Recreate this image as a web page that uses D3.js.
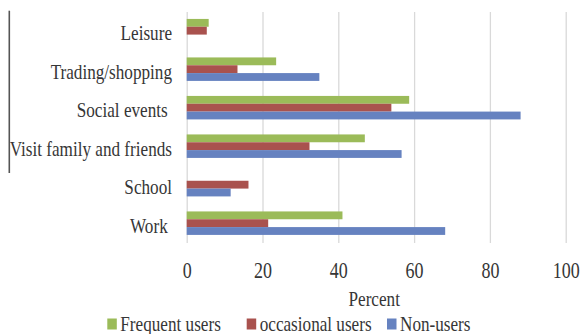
<!DOCTYPE html>
<html>
<head>
<meta charset="utf-8">
<script src="https://cdn.jsdelivr.net/npm/d3@7"></script>
<style>
  html, body { margin: 0; padding: 0; background: #fff; }
  svg text { font-family: "Liberation Serif", "Times New Roman", serif; fill: #363636; white-space: pre; }
</style>
</head>
<body>
<svg id="chart" width="580" height="334"></svg>
<script>
// Purposes of travel, top to bottom
const categories = ["Leisure", "Trading/shopping", "Social events ", "Visit family and friends", "School", "Work "];
const seriesNames = ["Frequent users", "occasional users", "Non-users"];
const seriesColors = ["#9bbb59", "#a9524e", "#6682c0"];

// Percent of respondents per purpose
const frequentUsers   = [5.8, 23.6, 58.7, 47.0, 0,    41.1];
const occasionalUsers = [5.3, 13.4, 54.0, 32.4, 16.3, 21.5];
const nonUsers        = [0,   35.0, 88.1, 56.7, 11.6, 68.2];

const xTicks = [0, 20, 40, 60, 80, 100];
const axisTitle = "Percent";

const series = [frequentUsers, occasionalUsers, nonUsers];
const rows = categories.map((c, i) => ({
  category: c,
  values: seriesNames.map((s, j) => ({ series: s, idx: j, value: series[j][i] }))
}));

const svg = d3.select("#chart");
const plot = { left: 186.7, right: 565.7, top: 12, bottom: 243 };
const sx = 0.78; // horizontal squeeze of the serif type

const x = d3.scaleLinear().domain([0, 100]).range([plot.left, plot.right]);
const y = d3.scaleBand().domain(categories).range([plot.top, plot.bottom]).padding(0);
const ySub = d3.scaleBand().domain(d3.range(seriesNames.length))
  .range([y.bandwidth() * 0.18, y.bandwidth() * 0.79]).padding(0);

// Vertical gridlines (including the zero line)
const grid = svg.append("g")
  .attr("transform", `translate(0,${plot.bottom})`)
  .call(d3.axisBottom(x).tickValues(xTicks).tickSize(-(plot.bottom - plot.top)).tickFormat(""));
grid.select(".domain").remove();
grid.selectAll(".tick line").attr("stroke", "#d9d9d9").attr("stroke-width", 1.3);

// Bars
const groups = svg.append("g").selectAll("g")
  .data(rows).join("g")
  .attr("transform", d => `translate(0,${y(d.category)})`);
groups.selectAll("rect")
  .data(d => d.values.filter(v => v.value > 0))
  .join("rect")
  .attr("x", x(0))
  .attr("y", d => ySub(d.idx))
  .attr("width", d => x(d.value) - x(0))
  .attr("height", ySub.bandwidth())
  .attr("fill", d => seriesColors[d.idx]);

// Category labels
svg.append("g").selectAll("text")
  .data(categories).join("text")
  .attr("transform", d => `translate(172,${y(d) + y.bandwidth() / 2 + 9}) scale(${sx},1)`)
  .attr("text-anchor", "end")
  .attr("font-size", 22)
  .text(d => d);

// Left bracket line beside the labels
svg.append("line")
  .attr("x1", 9.3).attr("x2", 9.3)
  .attr("y1", 10.7).attr("y2", 173)
  .attr("stroke", "#555").attr("stroke-width", 1.6);

// X tick labels
const xAxis = svg.append("g")
  .attr("transform", `translate(0,${plot.bottom})`)
  .call(d3.axisBottom(x).tickValues(xTicks).tickSize(0).tickFormat(d3.format("d")));
xAxis.select(".domain").remove();
xAxis.selectAll(".tick text")
  .attr("y", 35).attr("dy", 0)
  .attr("transform", `scale(0.8,1)`)
  .attr("font-family", null)
  .attr("font-size", 22.5)
  .attr("fill", "#363636");

// Axis title
svg.append("text")
  .attr("transform", `translate(${(plot.left + plot.right) / 2 - 2},305.5) scale(${sx},1)`)
  .attr("text-anchor", "middle")
  .attr("font-size", 22)
  .text(axisTitle);

// Legend
const legendX = [107.3, 246.7, 387];
const legend = svg.append("g").selectAll("g")
  .data(seriesNames).join("g")
  .attr("transform", (d, i) => `translate(${legendX[i]},0)`);
legend.append("rect")
  .attr("x", 0).attr("y", 318.5)
  .attr("width", 9.5).attr("height", 11)
  .attr("fill", (d, i) => seriesColors[i]);
legend.append("text")
  .attr("transform", `translate(13,330.5) scale(${sx},1)`)
  .attr("font-size", 22)
  .text(d => d);
</script>
</body>
</html>
